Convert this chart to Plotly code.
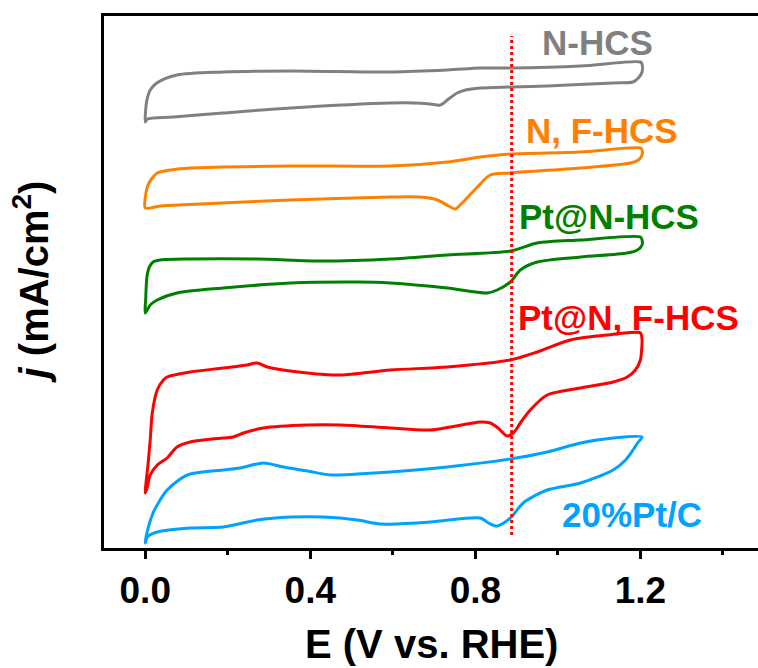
import plotly.graph_objects as go

# Potential (V vs. RHE) and current (arbitrary offset units) for each CV loop:
# anodic sweep 0 -> 1.2 V followed by the cathodic sweep back to 0 V.
nhcs_E = [0.000, 0.001, 0.004, 0.012, 0.028, 0.077, 0.189, 0.352, 0.594, 0.732, 0.812, 0.885,
          1.055, 1.200, 1.204, 1.204, 1.195, 1.182,
          1.134, 0.974, 0.885, 0.812, 0.776, 0.756, 0.735, 0.715, 0.691, 0.650, 0.594, 0.352,
          0.189, 0.068, 0.005, 0.000]
nhcs_j = [42.8, 44.0, 45.0, 46.0, 46.7, 47.5, 47.8, 47.9, 47.8, 48.0, 48.2, 48.2,
          48.4, 48.8, 48.6, 47.8, 47.2, 46.8,
          46.7, 46.4, 46.3, 46.2, 46.0, 45.7, 45.1, 44.5, 44.6, 44.7, 44.7, 44.2,
          43.7, 43.3, 43.1, 42.8]

nfhcs_E = [0.000, 0.001, 0.005, 0.015, 0.029, 0.061, 0.109, 0.352, 0.594, 0.732, 0.812, 0.885,
           1.055, 1.200, 1.204, 1.204, 1.195, 1.176,
           1.055, 0.885, 0.836, 0.805, 0.780, 0.763, 0.752, 0.735, 0.708, 0.667, 0.594,
           0.352, 0.133, 0.036, 0.000]
nfhcs_j = [34.2, 35.5, 36.3, 37.1, 37.7, 38.0, 38.2, 38.4, 38.4, 38.8, 39.3, 39.6,
           39.8, 40.2, 40.0, 39.5, 39.0, 38.7,
           38.2, 37.7, 37.5, 36.3, 35.2, 34.5, 34.1, 34.4, 35.0, 35.3, 35.3,
           35.0, 34.6, 34.4, 34.2]

ptn_E = [0.000, 0.001, 0.004, 0.010, 0.019, 0.036, 0.109, 0.271, 0.431, 0.594, 0.732, 0.885,
         0.950, 1.055, 1.200, 1.204, 1.204, 1.193, 1.168,
         1.055, 0.950, 0.909, 0.885, 0.853, 0.829, 0.732, 0.594, 0.514, 0.352, 0.189,
         0.077, 0.029, 0.012, 0.000]
ptn_j = [23.7, 25.0, 27.3, 28.3, 28.8, 29.0, 29.1, 29.1, 28.9, 29.1, 29.5, 29.9,
         30.7, 31.0, 31.3, 31.0, 30.5, 30.0, 29.7,
         29.3, 28.8, 28.0, 26.8, 26.0, 25.7, 26.2, 26.7, 26.8, 26.7, 26.2,
         25.7, 25.0, 24.5, 23.7]

ptnf_E = [0.000, 0.007, 0.012, 0.017, 0.029, 0.044, 0.053, 0.109, 0.189, 0.247, 0.271, 0.296,
          0.393, 0.473, 0.594, 0.732, 0.885, 0.950, 1.030, 1.120, 1.200,
          1.204, 1.203, 1.200, 1.188, 1.168,
          1.134, 1.055, 0.974, 0.933, 0.909, 0.892, 0.877, 0.855, 0.836, 0.812, 0.691,
          0.594, 0.473, 0.393, 0.286, 0.238, 0.213, 0.189, 0.109, 0.077, 0.053, 0.029,
          0.012, 0.005, 0.000]
ptnf_j = [5.7, 8.7, 11.0, 13.7, 16.0, 17.0, 17.3, 17.8, 18.2, 18.5, 18.7, 18.3,
          17.7, 17.5, 18.0, 18.3, 19.0, 19.8, 21.0, 21.5, 21.7,
          21.0, 20.0, 19.0, 18.0, 17.3,
          16.8, 16.2, 15.5, 14.0, 12.7, 11.7, 11.4, 12.2, 12.7, 12.8, 12.0,
          12.2, 12.5, 12.5, 12.2, 11.7, 11.3, 11.2, 10.8, 10.3, 9.2, 8.5,
          7.5, 6.3, 5.7]

ptc_E = [0.000, 0.004, 0.019, 0.036, 0.053, 0.102, 0.189, 0.230, 0.286, 0.335, 0.393, 0.448,
         0.514, 0.594, 0.732, 0.885, 0.974, 1.055, 1.134, 1.204,
         1.195, 1.182, 1.164, 1.134, 1.055, 0.974, 0.916, 0.885, 0.853, 0.832, 0.812,
         0.691, 0.570, 0.514, 0.432, 0.352, 0.271, 0.189, 0.109, 0.029, 0.005, 0.000]
ptc_j = [0.7, 1.7, 3.7, 5.0, 6.0, 7.5, 8.0, 8.2, 8.7, 8.3, 7.9, 7.5,
         7.6, 7.8, 8.3, 9.1, 9.8, 10.7, 11.2, 11.3,
         10.8, 10.0, 9.0, 8.0, 6.7, 6.0, 4.7, 3.2, 2.4, 2.7, 3.2,
         2.8, 2.6, 3.0, 3.3, 3.3, 3.0, 2.3, 2.2, 1.8, 1.3, 0.7]

names = ["N-HCS", "N, F-HCS", "Pt@N-HCS", "Pt@N, F-HCS", "20%Pt/C"]
colors = ["#808080", "#FF8000", "#008000", "#FF0000", "#00A2FF"]
series_E = [nhcs_E, nfhcs_E, ptn_E, ptnf_E, ptc_E]
series_j = [nhcs_j, nfhcs_j, ptn_j, ptnf_j, ptc_j]

# label anchor points (E, j) for the in-plot series names
label_E = [1.095, 1.108, 1.124, 1.172, 1.179]
label_j = [50.8, 42.0, 33.4, 23.3, 3.55]

onset_E = 0.888
onset_j = [1.5, 51.4]

FONT = "Liberation Sans, Arial, sans-serif"

fig = go.Figure()
for E, j, name, c in zip(series_E, series_j, names, colors):
    fig.add_trace(go.Scatter(
        x=E, y=j, mode="lines", name=name,
        line=dict(color=c, width=3, shape="spline", smoothing=0.8),
        showlegend=False,
    ))

fig.add_trace(go.Scatter(
    x=[onset_E, onset_E], y=onset_j, mode="lines",
    line=dict(color="#FF0000", width=3, dash="dot"),
    showlegend=False, hoverinfo="skip",
))

for name, c, ex, jy in zip(names, colors, label_E, label_j):
    fig.add_annotation(
        x=ex, y=jy, xref="x", yref="y", text=f"<b>{name}</b>",
        showarrow=False, xanchor="center", yanchor="middle",
        font=dict(family=FONT, size=35, color=c),
    )

fig.add_annotation(
    x=-0.111, y=0.5, xref="paper", yref="paper", textangle=-90,
    text="<b><i>j</i> (mA/cm<sup>2</sup>)</b>", showarrow=False,
    xanchor="center", yanchor="middle",
    font=dict(family=FONT, size=40, color="black"),
)
fig.add_annotation(
    x=0.5, y=-0.18, xref="paper", yref="paper",
    text="<b>E (V vs. RHE)</b>", showarrow=False,
    xanchor="center", yanchor="middle",
    font=dict(family=FONT, size=40, color="black"),
)

fig.update_layout(
    width=758, height=668,
    margin=dict(l=104, r=0, t=16, b=120),
    plot_bgcolor="white", paper_bgcolor="white",
    font=dict(family=FONT, color="black"),
)
fig.update_xaxes(
    range=[-0.1, 1.485], showgrid=False, zeroline=False,
    showline=True, linecolor="black", linewidth=3, mirror=True,
    tickmode="array", tickvals=[0.0, 0.4, 0.8, 1.2],
    ticktext=["<b>0.0</b>", "<b>0.4</b>", "<b>0.8</b>", "<b>1.2</b>"],
    ticks="outside", ticklen=8, tickwidth=3, tickcolor="black",
    tickfont=dict(family=FONT, size=37, color="black"),
    minor=dict(tickvals=[0.2, 0.6, 1.0, 1.4], ticks="outside", ticklen=4,
               tickwidth=3, tickcolor="black", showgrid=False),
)
fig.update_yaxes(
    range=[0.2, 53.4], showgrid=False, zeroline=False,
    showline=True, linecolor="black", linewidth=3, mirror=False,
    showticklabels=False, ticks="",
)

fig.write_html("out.html")
